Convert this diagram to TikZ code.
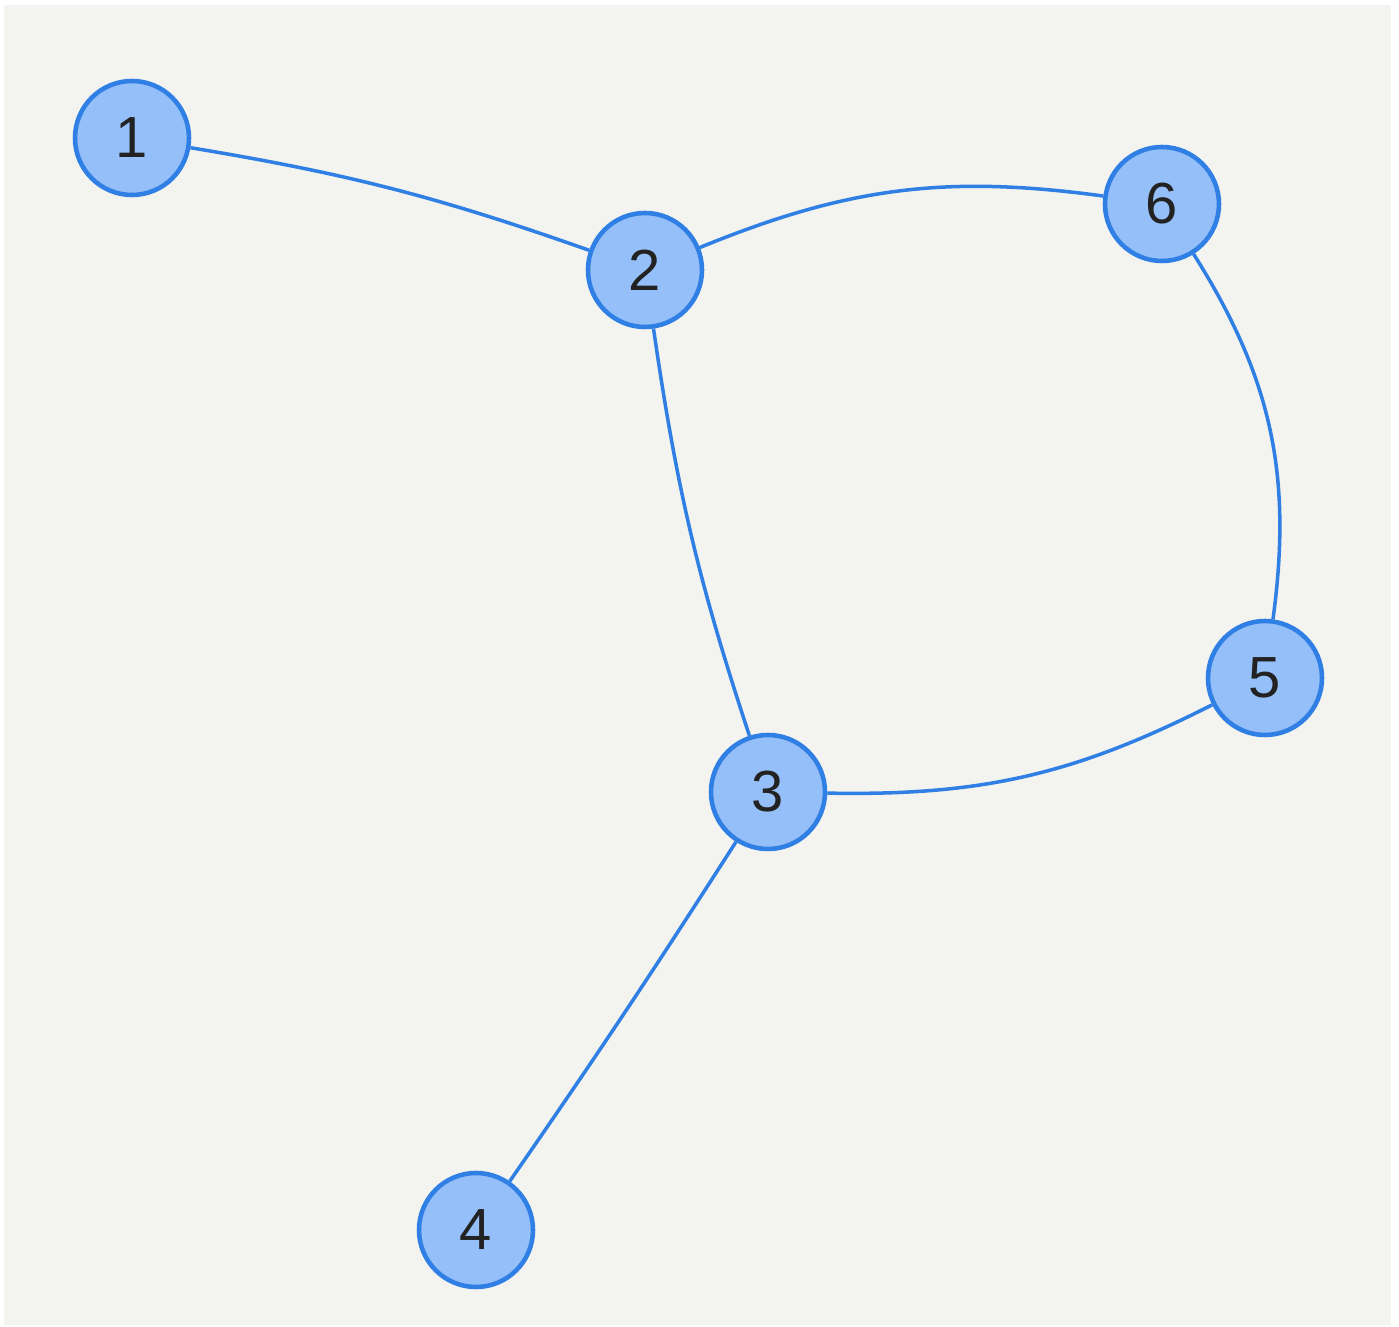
\documentclass[tikz,border=0pt]{standalone}
\usepackage{fontspec}
\setmainfont{Liberation Sans}
\definecolor{bgpaper}{HTML}{F3F4EF}
\definecolor{vfill}{HTML}{94BFF8}
\definecolor{vline}{HTML}{2F7FE4}
\definecolor{vtext}{HTML}{222222}
\tikzset{
  vertex/.style={circle, draw=vline, fill=vfill, line width=1.3pt,
    minimum size=1.14cm, inner sep=0pt, text=vtext,
    font=\fontsize{16.5}{18}\selectfont},
  link/.style={draw=vline, line width=1pt}
}
\begin{document}
\begin{tikzpicture}
    \useasboundingbox (0, 0) rectangle (13.99, 13.27);
    \fill[bgpaper] (0.04, 0.02) rectangle (13.91, 13.22);

    \node[vertex] (n1) at (1.32, 11.89) {1};
    \node[vertex] (n2) at (6.45, 10.57) {2};
    \node[vertex] (n6) at (11.62, 11.23) {6};
    \node[vertex] (n5) at (12.65, 6.49) {5};
    \node[vertex] (n3) at (7.68, 5.35) {3};
    \node[vertex] (n4) at (4.76, 0.97) {4};

    \draw[link] (n1) to[bend left=5] (n2);
    \draw[link] (n2) to[bend left=15] (n6);
    \draw[link] (n6) to[bend left=20] (n5);
    \draw[link] (n2) to[bend right=5] (n3);
    \draw[link] (n3) to[bend right=14] (n5);
    \draw[link] (n3) to[bend left=1] (n4);
\end{tikzpicture}
\end{document}
